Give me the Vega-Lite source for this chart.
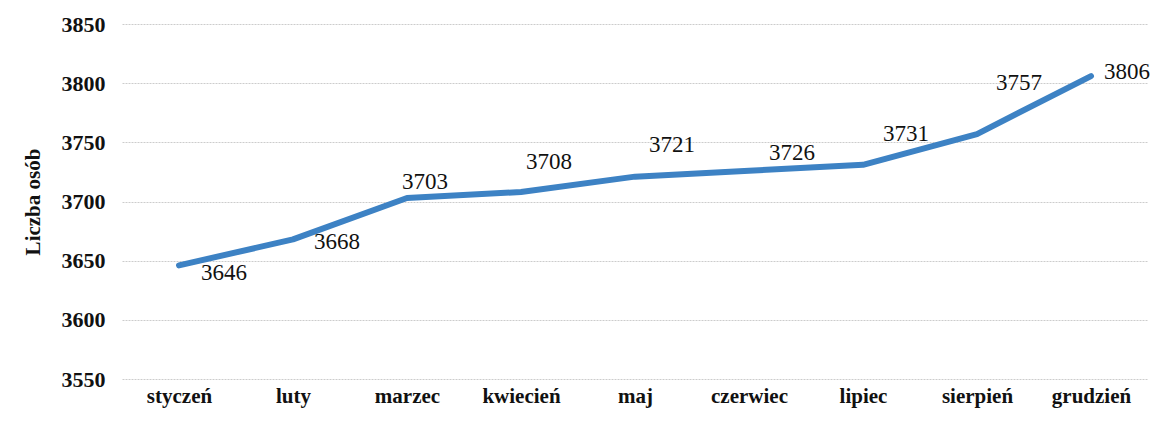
{
  "$schema": "https://vega.github.io/schema/vega-lite/v6.json",
  "width": 1026,
  "height": 355,
  "autosize": {"type": "none"},
  "padding": {"left": 122, "top": 24, "right": 9, "bottom": 42},
  "background": "white",
  "config": {"view": {"stroke": null}, "font": "Times New Roman, Liberation Serif, serif"},
  "data": {"values": [
    {"m": "styczeń", "v": 3646},
    {"m": "luty", "v": 3668},
    {"m": "marzec", "v": 3703},
    {"m": "kwiecień", "v": 3708},
    {"m": "maj", "v": 3721},
    {"m": "czerwiec", "v": 3726},
    {"m": "lipiec", "v": 3731},
    {"m": "sierpień", "v": 3757},
    {"m": "grudzień", "v": 3806}
  ]},
  "encoding": {
    "x": {"field": "m", "type": "ordinal", "sort": null,
      "scale": {"type": "point", "padding": 0.5},
      "axis": {"title": null, "labelAngle": 0, "labelFont": "Times New Roman, Liberation Serif, serif", "labelFontWeight": "bold", "labelFontSize": 21, "labelColor": "#111", "labelPadding": 6, "domain": false, "ticks": false, "grid": false}},
    "y": {"field": "v", "type": "quantitative",
      "scale": {"domain": [3550, 3850], "zero": false, "nice": false},
      "axis": {"title": "Liczba osób", "format": "d", "values": [3550, 3600, 3650, 3700, 3750, 3800, 3850], "titleFont": "Times New Roman, Liberation Serif, serif", "titleFontSize": 21, "titleFontWeight": "bold", "titleColor": "#111", "titlePadding": 18, "labelFont": "Times New Roman, Liberation Serif, serif", "labelFontWeight": "bold", "labelFontSize": 22, "labelColor": "#111", "labelPadding": 17, "domain": false, "ticks": false, "grid": true, "gridColor": "#cccccc", "gridDash": [2, 1], "gridWidth": 1}}
  },
  "layer": [
    {"mark": {"type": "line", "color": "#3d82c4", "strokeWidth": 6, "strokeCap": "round", "strokeJoin": "round"}},
    {"transform": [{"filter": "datum.m == 'styczeń'"}], "mark": {"type": "text", "font": "Times New Roman, Liberation Serif, serif", "fontSize": 23, "color": "#111", "dx": 45, "dy": 8, "baseline": "middle"}, "encoding": {"text": {"field": "v"}}},
    {"transform": [{"filter": "datum.m == 'luty'"}], "mark": {"type": "text", "font": "Times New Roman, Liberation Serif, serif", "fontSize": 23, "color": "#111", "dx": 44, "dy": 3, "baseline": "middle"}, "encoding": {"text": {"field": "v"}}},
    {"transform": [{"filter": "datum.m == 'marzec'"}], "mark": {"type": "text", "font": "Times New Roman, Liberation Serif, serif", "fontSize": 23, "color": "#111", "dx": 18, "dy": -16, "baseline": "middle"}, "encoding": {"text": {"field": "v"}}},
    {"transform": [{"filter": "datum.m == 'kwiecień'"}], "mark": {"type": "text", "font": "Times New Roman, Liberation Serif, serif", "fontSize": 23, "color": "#111", "dx": 28, "dy": -30, "baseline": "middle"}, "encoding": {"text": {"field": "v"}}},
    {"transform": [{"filter": "datum.m == 'maj'"}], "mark": {"type": "text", "font": "Times New Roman, Liberation Serif, serif", "fontSize": 23, "color": "#111", "dx": 37, "dy": -32, "baseline": "middle"}, "encoding": {"text": {"field": "v"}}},
    {"transform": [{"filter": "datum.m == 'czerwiec'"}], "mark": {"type": "text", "font": "Times New Roman, Liberation Serif, serif", "fontSize": 23, "color": "#111", "dx": 43, "dy": -18, "baseline": "middle"}, "encoding": {"text": {"field": "v"}}},
    {"transform": [{"filter": "datum.m == 'lipiec'"}], "mark": {"type": "text", "font": "Times New Roman, Liberation Serif, serif", "fontSize": 23, "color": "#111", "dx": 43, "dy": -31, "baseline": "middle"}, "encoding": {"text": {"field": "v"}}},
    {"transform": [{"filter": "datum.m == 'sierpień'"}], "mark": {"type": "text", "font": "Times New Roman, Liberation Serif, serif", "fontSize": 23, "color": "#111", "dx": 42, "dy": -51, "baseline": "middle"}, "encoding": {"text": {"field": "v"}}},
    {"transform": [{"filter": "datum.m == 'grudzień'"}], "mark": {"type": "text", "font": "Times New Roman, Liberation Serif, serif", "fontSize": 23, "color": "#111", "dx": 36, "dy": -4, "baseline": "middle"}, "encoding": {"text": {"field": "v"}}}
  ]
}
